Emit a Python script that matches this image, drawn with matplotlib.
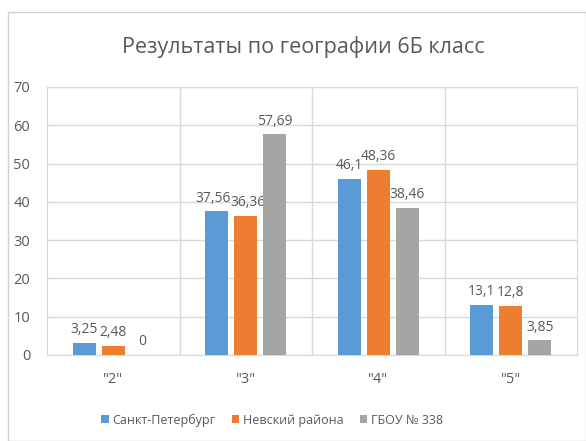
import matplotlib
matplotlib.use("Agg")
import matplotlib.pyplot as plt
import numpy as np
from matplotlib import font_manager
from matplotlib.patches import Rectangle

names = {f.name for f in font_manager.fontManager.ttflist}
fam = [f for f in ["Liberation Sans Narrow", "Open Sans", "DejaVu Sans"] if f in names]
plt.rcParams['font.family'] = fam

categories = ['"2"', '"3"', '"4"', '"5"']
series_names = ["Санкт-Петербург", "Невский района", "ГБОУ № 338"]
spb = [3.25, 37.56, 46.1, 13.1]
nevsky = [2.48, 36.36, 48.36, 12.8]
school = [0, 57.69, 38.46, 3.85]
labels_spb = ["3,25", "37,56", "46,1", "13,1"]
labels_nevsky = ["2,48", "36,36", "48,36", "12,8"]
labels_school = ["0", "57,69", "38,46", "3,85"]
title = "Результаты по географии 6Б класс"
yticks = [0, 10, 20, 30, 40, 50, 60, 70]

colors = ["#5B9BD5", "#ED7D31", "#A5A5A5"]
grid_c = "#D9D9D9"
text_c = "#595959"

fig = plt.figure(figsize=(5.86, 4.41), dpi=100)
fig.patches.append(Rectangle((8/586, 0), 1 - 8/586, 1 - 12/441, transform=fig.transFigure,
                             fill=False, edgecolor="#D0D0D0", lw=1.0))
ax = fig.add_axes([47/586, 1 - 355/441, 530/586, (355 - 87)/441])

x = np.arange(len(categories))
w = 23/132.5
step = 29/132.5
data = [spb, nevsky, school]
labs = [labels_spb, labels_nevsky, labels_school]
# small horizontal nudges (points) to keep neighbouring labels apart, as in the original
nudge = {(0, 1): -3, (1, 1): 1.5}
for i, (vals, lab) in enumerate(zip(data, labs)):
    pos = x + (i - 1) * step
    ax.bar(pos, vals, width=w, color=colors[i], label=series_names[i], zorder=3)
    for j, (p, v, t) in enumerate(zip(pos, vals, lab)):
        ax.annotate(t, (p, v), xytext=(nudge.get((i, j), 0), 4), textcoords="offset points",
                    ha="center", va="bottom", fontsize=10, color=text_c)

ax.set_xlim(-0.5, len(categories) - 0.5)
ax.set_ylim(0, 70)
ax.set_yticks(yticks)
ax.set_yticklabels([str(t) for t in yticks])
ax.set_xticks(x)
ax.set_xticklabels(categories)
ax.tick_params(length=0, labelsize=10.5, labelcolor=text_c)
ax.tick_params(axis="x", pad=12)
ax.tick_params(axis="y", pad=12)
ax.yaxis.grid(True, color=grid_c, lw=1, zorder=0)
for b in np.arange(0.5, len(categories) - 0.5, 1):
    ax.axvline(b, color=grid_c, lw=1, zorder=0)
for s in ax.spines.values():
    s.set_color(grid_c)

fig.text(303/586, 1 - 47/441, title, ha="center", va="center", fontsize=15.5, color=text_c)
ax.legend(loc="center", bbox_to_anchor=(272/586, 1 - 420/441), bbox_transform=fig.transFigure,
          ncol=3, frameon=False, fontsize=9, handlelength=0.6, handleheight=0.6,
          handletextpad=0.3, columnspacing=1.3, labelcolor=text_c)

fig.savefig("out.png", dpi=100)
